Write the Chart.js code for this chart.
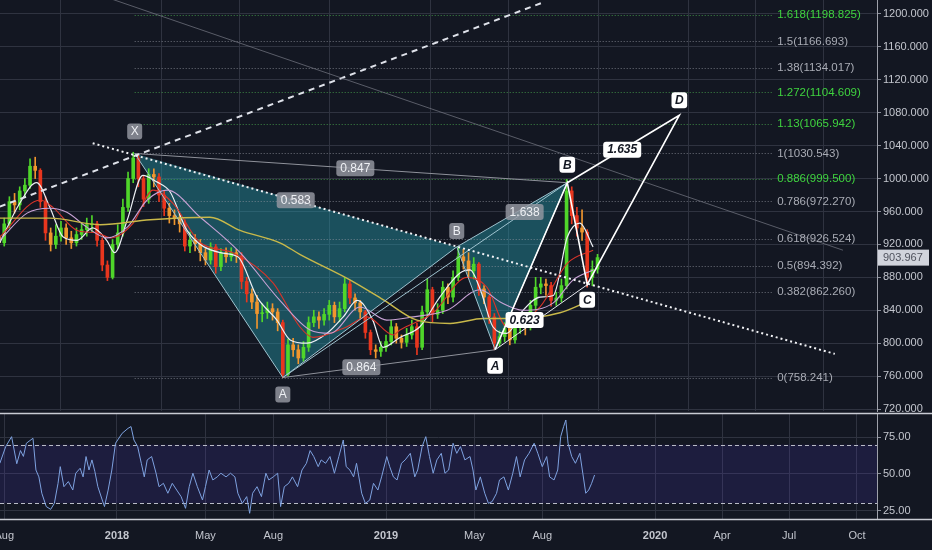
<!DOCTYPE html>
<html><head><meta charset="utf-8">
<script src="https://cdn.jsdelivr.net/npm/chart.js@4.4.1/dist/chart.umd.min.js"></script>
<style>
html,body{margin:0;padding:0;background:#131722;overflow:hidden}
#wrap{position:relative;width:932px;height:550px;background:#131722}
#c1{position:absolute;left:0;top:0}
#c2{position:absolute;left:0;top:412px}
</style></head>
<body><div id="wrap"><canvas id="c1" width="932" height="412"></canvas><canvas id="c2" width="932" height="138"></canvas></div>
<script>
// ---------- DATA ----------
const tickDays = [-153, 0, 120, 212, 365, 485, 577, 730, 821, 912, 1004]; // days since 2018-01-01
const tickLabels = ['Aug','2018','May','Aug','2019','May','Aug','2020','Apr','Jul','Oct'];
const priceTicks = [720,760,800,840,880,920,960,1000,1040,1080,1120,1160,1200];
const rsiTicks = [25,50,75];

const candleStartDay = -160, candleStepDays = 7;
const firstOpen = 930;
const closes = [922,945,972,968,985,992,1015,1010,972,934,
 920,930,940,928,922,932,938,944,945,925,
 895,880,920,934,965,1000,1025,1000,975,1005,
 1002,980,964,955,952,945,918,925,921,910,
 901,917,893,910,905,910,906,875,860,850,
 836,837,842,838,825,762,798,792,782,795,
 825,832,828,835,846,832,842,872,855,849,
 838,813,792,790,795,802,820,806,801,810,
 820,795,838,865,835,840,868,856,880,905,
 900,888,896,866,856,832,800,808,818,804,
 820,822,820,846,868,872,870,852,855,870,
 985,955,940,935,880,890,904];
const highs = [935,952,978,982,990,1000,1024,1026,1012,978,
 940,944,948,945,936,940,946,952,955,948,
 928,900,926,944,975,1008,1032,1030,1004,1012,
 1012,1006,985,970,962,958,950,935,932,926,
 915,922,920,915,916,916,914,910,880,866,
 858,848,850,848,842,828,805,806,798,802,
 832,840,838,842,852,850,850,880,876,860,
 852,840,816,798,802,810,828,824,810,818,
 828,824,845,878,868,848,875,872,888,917,
 914,910,904,898,870,858,836,815,825,822,
 826,830,828,852,880,880,878,874,862,878,
 999,990,965,962,938,900,908];
const lows = [915,918,940,958,962,978,988,1000,965,925,
 912,915,924,920,915,918,926,930,935,918,
 888,876,878,915,930,960,995,990,966,970,
 990,972,955,946,944,935,912,910,912,900,
 895,896,885,888,898,900,898,866,850,842,
 818,826,830,828,815,758,760,784,775,778,
 790,820,818,822,828,825,826,838,848,840,
 830,806,786,782,784,790,798,800,794,796,
 805,786,792,832,826,830,836,848,850,876,
 890,880,878,858,848,824,792,796,802,798,
 800,812,810,816,840,860,858,845,846,850,
 866,945,930,925,868,870,885];
const lastPrice = 903.967;

const maWhiteDays = [-159,-132,-109,-91,-73,-54,-33,-14,-3,14,35,54,72,95,140,164,190,217,235,258,285,307,326,347,361,384,411,438,465,479,493,510,529,551,574,592,611,628,646];
const maWhiteVals = [922,970,995,965,929,925,940,925,910,950,1004,996,984,937,910,905,856,828,804,800,812,832,852,828,795,807,820,856,885,889,865,820,812,840,856,858,929,946,917];
const maLavDays = [-159,-122,-91,-68,-41,-14,14,41,68,113,167,221,262,289,330,366,402,448,493,520,551,592,619,646];
const maLavVals = [925,958,964,959,941,928,941,974,986,953,910,852,816,812,844,828,832,840,865,850,840,849,877,889];
const maRedDays = [-159,-104,-87,-54,-27,-9,22,49,76,113,157,212,248,266,312,339,375,384,429,475,502,529,574,611,646];
const maRedVals = [929,974,965,937,934,928,946,986,970,922,910,873,820,807,820,832,810,816,837,880,868,820,844,897,913];
const maYelDays = [-159,-91,-23,45,126,167,221,248,316,361,407,452,497,543,601,642];
const maYelVals = [952,952,944,950,953,937,922,908,877,853,828,824,830,830,837,852];

const patternNames = ['X','A','B','C','D'];
const patternDays = [24, 225, 461, 611, 513];
const patternPrices = [1030.543, 758.241, 917, 995, 792];
const pattern2Names = ['A','B','C','D'];
const pattern2Days = [513, 611, 638, 763];
const pattern2Prices = [792, 995, 871, 1077];
const ratioTexts = ['0.583','0.847','1.638','0.864'];
const ratio2Texts = ['1.635','0.623'];

const fibRatios = ['1.618','1.5','1.38','1.272','1.13','1','0.886','0.786','0.618','0.5','0.382','0'];
const fibPrices = [1198.825,1166.693,1134.017,1104.609,1065.942,1030.543,999.5,972.27,926.524,894.392,862.26,758.241];
const fibStartDay = 24, fibEndDay = 889;

const trendDottedDays = [-33, 974], trendDottedPrices = [1043, 787];
const trendDashedDays = [-159, 581], trendDashedPrices = [966, 1215];
const trendFaintDays = [-23, 985], trendFaintPrices = [1223, 913];

const rsiDays = [-159,-151,-143,-136,-131,-127,-123,-114,-110,-106,
-102,-96,-90,-85,-80,-77,-72,-66,-60,-56,
-50,-46,-42,-38,-34,-30,-26,-20,-17,-12,
-7,-2,7,15,19,23,28,33,37,41,
47,53,57,63,69,75,81,87,93,98,
103,109,116,120,125,130,136,141,148,154,
160,164,170,176,180,184,190,196,202,206,
212,218,222,227,233,238,245,251,257,262,
267,273,277,283,289,295,301,307,311,316,
321,325,332,337,343,348,354,359,366,370,
375,380,386,391,398,404,408,414,419,424,
429,434,440,445,450,456,461,466,472,479,
483,487,493,499,504,509,515,519,525,531,
537,542,547,553,559,566,571,577,583,587,
593,598,602,606,609,612,617,622,628,632,
636,640,644,648];
const rsiVals = [57.3,68.7,75.5,57,66,62,71,74.4,52.7,48,
36.8,27.7,25.8,29.9,43.6,55,41.3,44.8,39,50.5,
53.9,48,61.9,52.7,59.6,51.6,41.3,32.2,27.7,39,
52.7,71,77.8,81.2,82.4,73.2,68.7,57.3,48,59.6,
61.9,50.5,41.3,43.6,36.8,43.6,39,34.5,26.5,41.3,
50.5,41.3,32.2,41.3,52.7,45.9,48,50.5,48,50.5,
48,36.8,29.9,34.5,23.1,36.8,41.3,34.5,50.5,45.9,
48,50.5,27.7,41.3,43.6,48,41.3,52.7,57.3,66,
61.9,55,59.6,57.3,61.9,50.5,61.9,73.2,55,52.7,
48,57.3,36.8,29.9,32.2,43.6,39,48,61.9,55,
48,45.9,57.3,59.6,64.1,48,52.7,68.7,75.5,61.9,
50.5,59.6,64.1,50.5,52.7,71,64.1,68.7,59.6,61.9,
52.7,39,48,36.8,29.9,31.1,36.8,45.9,48,39,
50.5,61.9,48,59.6,64.1,71,64.1,55,61.9,48,
45.9,52.7,75.5,82.4,86.9,71,61.9,57.3,64.1,50.5,
36.8,39,43.6,49.3];
const rsiUpper = 70, rsiLower = 30;

// ---------- STYLE / BUILD ----------
const X_MIN = -158.75, X_MAX = 1031.2;
const GRID = '#2f3340', TXT = '#c3c6ce';
const FONT = "'Liberation Sans', Arial, sans-serif";
const fibGreen = new Set(['1.618','1.272','1.13','0.886']);

const opens = closes.map((c, i) => i === 0 ? firstOpen : closes[i - 1]);
const candleDays = closes.map((c, i) => candleStartDay + candleStepDays * i);
const candleData = closes.map((c, i) => ({ x: candleDays[i], y: [opens[i], c] }));
const wickData = closes.map((c, i) => ({ x: candleDays[i], y: [lows[i], highs[i]] }));
const candleColors = closes.map((c, i) => {
  const o = opens[i];
  if (c >= o) return '#4fd62a';
  return (o - c) > 14 ? '#e8361e' : '#f0962e';
});
const pts = (days, vals) => days.map((d, i) => ({ x: d, y: vals[i] }));
const P = i => ({ x: patternDays[i], y: patternPrices[i] });
const Q = i => ({ x: pattern2Days[i], y: pattern2Prices[i] });

function lineDs(data, color, width, dash, order) {
  return { type: 'line', data, borderColor: color, borderWidth: width, borderDash: dash || [],
    pointRadius: 0, tension: 0, fill: false, order: order };
}
function maDs(days, vals, color, w) {
  return { type: 'line', data: pts(days, vals), borderColor: color, borderWidth: w,
    pointRadius: 0, tension: 0.4, cubicInterpolationMode: 'monotone', fill: false, order: 5 };
}
function zeroPad(s) { s.paddingLeft = 0; s.paddingRight = 0; s.paddingTop = 0; s.paddingBottom = 0; }

function box(ctx, text, cx, cy, style) {
  ctx.save();
  ctx.font = style === 'white' ? "italic bold 12px " + FONT : "12px " + FONT;
  const w = ctx.measureText(text).width + (text.length > 1 ? 8 : 7);
  const h = 16;
  ctx.beginPath();
  ctx.roundRect(cx - w / 2, cy - h / 2, w, h, 3);
  ctx.fillStyle = style === 'white' ? '#ffffff' : 'rgba(150,153,162,0.82)';
  ctx.fill();
  ctx.fillStyle = style === 'white' ? '#131722' : '#eef0f4';
  ctx.textAlign = 'center'; ctx.textBaseline = 'middle';
  ctx.fillText(text, cx, cy + 0.5);
  ctx.restore();
}

const drawPlugin = {
  id: 'drawings',
  beforeDatasetsDraw(chart) {
    const { ctx, scales: { x, y }, chartArea } = chart;
    const px = p => [x.getPixelForValue(p.x), y.getPixelForValue(p.y)];
    ctx.save();
    ctx.beginPath(); ctx.rect(chartArea.left, chartArea.top, chartArea.width, chartArea.height); ctx.clip();
    ctx.fillStyle = 'rgba(38,160,176,0.42)';
    [[0, 1, 2], [2, 3, 4]].forEach(tri => {
      ctx.beginPath();
      tri.forEach((k, j) => { const [a, b] = px(P(k)); j ? ctx.lineTo(a, b) : ctx.moveTo(a, b); });
      ctx.closePath(); ctx.fill();
    });
    ctx.lineWidth = 1;
    fibPrices.forEach((p, i) => {
      const yy = Math.round(y.getPixelForValue(p)) + 0.5;
      ctx.strokeStyle = fibGreen.has(fibRatios[i]) ? 'rgba(76,175,80,0.75)' : 'rgba(150,153,162,0.7)';
      ctx.setLineDash([1, 2]);
      ctx.beginPath(); ctx.moveTo(x.getPixelForValue(fibStartDay), yy); ctx.lineTo(x.getPixelForValue(fibEndDay), yy); ctx.stroke();
    });
    ctx.restore();
  },
  afterDatasetsDraw(chart) {
    const { ctx, scales: { x, y } } = chart;
    const px = p => [x.getPixelForValue(p.x), y.getPixelForValue(p.y)];
    ctx.save();
    ctx.font = "11.5px " + FONT; ctx.textBaseline = 'middle'; ctx.textAlign = 'left';
    fibPrices.forEach((p, i) => {
      ctx.fillStyle = fibGreen.has(fibRatios[i]) ? '#3fd43f' : '#a9acb5';
      ctx.fillText(fibRatios[i] + '(' + p.toFixed(3) + ')', x.getPixelForValue(fibEndDay) + 5, y.getPixelForValue(p));
    });
    ctx.restore();
    const off1 = [-22, 17, -16];
    [0, 1, 2].forEach(i => { const [a, b] = px(P(i)); box(ctx, patternNames[i], a, b + off1[i], 'gray'); });
    const r1 = [[0, 2, 0.5], [0, 3, 0.51], [1, 3, 0.85], [1, 4, 0.37]];
    r1.forEach((r, i) => {
      const [a1, b1] = px(P(r[0])), [a2, b2] = px(P(r[1]));
      box(ctx, ratioTexts[i], a1 + (a2 - a1) * r[2], b1 + (b2 - b1) * r[2], 'gray');
    });
    const off2 = [16, -18, 15, -15];
    [0, 1, 2, 3].forEach(i => { const [a, b] = px(Q(i)); box(ctx, pattern2Names[i], a, b + off2[i], 'white'); });
    const r2 = [[1, 3, 0.49, 0], [0, 2, 0.32, -9]];
    r2.forEach((r, i) => {
      const [a1, b1] = px(Q(r[0])), [a2, b2] = px(Q(r[1]));
      box(ctx, ratio2Texts[i], a1 + (a2 - a1) * r[2], b1 + (b2 - b1) * r[2] + r[3], 'white');
    });
  },
  afterDraw(chart) {
    const { ctx, scales: { y }, chartArea } = chart;
    const yy = y.getPixelForValue(lastPrice);
    ctx.save();
    ctx.fillStyle = '#d1d4dc';
    ctx.fillRect(chartArea.right + 1, yy - 8, 51, 16);
    ctx.fillStyle = '#50535e';
    ctx.font = "11px " + FONT; ctx.textBaseline = 'middle'; ctx.textAlign = 'left';
    ctx.fillText(lastPrice.toFixed(3), chartArea.right + 6, yy + 0.5);
    ctx.restore();
  }
};

const xScaleBase = {
  type: 'linear', min: X_MIN, max: X_MAX, offset: false,
  afterBuildTicks: s => { s.ticks = tickDays.map(v => ({ value: v })); },
  grid: { color: GRID, drawTicks: false },
};

new Chart(document.getElementById('c1'), {
  type: 'bar',
  data: {
    datasets: [
      { type: 'bar', data: wickData, backgroundColor: candleColors, barThickness: 1, grouped: false, order: 11 },
      { type: 'bar', data: candleData, backgroundColor: candleColors, barThickness: 3, grouped: false, order: 10 },
      maDs(maYelDays, maYelVals, '#c9b94a', 1.4),
      maDs(maLavDays, maLavVals, '#c9a3d6', 1.1),
      maDs(maRedDays, maRedVals, '#d8342a', 1.1),
      maDs(maWhiteDays, maWhiteVals, '#eceff4', 1.2),
      lineDs(pts(trendFaintDays, trendFaintPrices), 'rgba(120,123,134,0.7)', 1, [], 3),
      lineDs(pts(trendDashedDays, trendDashedPrices), '#dfe2ea', 2, [6, 5], 3),
      lineDs([P(0), P(3)], '#8f929b', 1, [], 3),
      lineDs([P(1), P(4)], '#8f929b', 1, [], 3),
      lineDs([P(1), P(3)], '#9fc3cf', 1, [], 3),
      lineDs([P(0), P(1), P(2), P(3), P(4), P(2)], '#9fc3cf', 1, [], 3),
      lineDs(pts(trendDottedDays, trendDottedPrices), '#f2f3f6', 2, [2, 3], 2),
      lineDs([Q(0), Q(2)], '#e6e8ee', 1, [], 1),
      lineDs([Q(0), Q(1), Q(2), Q(3), Q(1)], '#ffffff', 1.6, [], 1),
    ]
  },
  options: {
    responsive: false, animation: false, events: [],
    layout: { padding: 0 },
    plugins: { legend: { display: false }, tooltip: { enabled: false } },
    scales: {
      x: Object.assign({}, xScaleBase, { ticks: { display: false }, border: { display: false },
        afterFit: s => { s.height = 1; zeroPad(s); } }),
      y: {
        type: 'linear', position: 'right', min: 717.6, max: 1217,
        afterBuildTicks: s => { s.ticks = priceTicks.map(v => ({ value: v })); },
        ticks: { color: TXT, font: { size: 11, family: FONT }, padding: 2, callback: v => Number(v).toFixed(3) },
        grid: { color: GRID, tickLength: 4, tickColor: '#8a8e99' },
        border: { color: '#9ea1aa' },
        afterFit: s => { s.width = 55; zeroPad(s); }
      }
    }
  },
  plugins: [drawPlugin]
});

const rsiPlugin = {
  id: 'rsiband',
  beforeDatasetsDraw(chart) {
    const { ctx, scales: { y }, chartArea } = chart;
    const y1 = y.getPixelForValue(rsiUpper), y2 = y.getPixelForValue(rsiLower);
    ctx.save();
    ctx.fillStyle = 'rgba(82,62,200,0.17)';
    ctx.fillRect(chartArea.left, y1, chartArea.width, y2 - y1);
    ctx.strokeStyle = '#b9bcc6'; ctx.lineWidth = 1; ctx.setLineDash([4, 3]);
    [y1, y2].forEach(v => { ctx.beginPath(); ctx.moveTo(chartArea.left, Math.round(v) + 0.5); ctx.lineTo(chartArea.right, Math.round(v) + 0.5); ctx.stroke(); });
    ctx.restore();
  },
  afterDraw(chart) {
    const { ctx, chartArea } = chart;
    ctx.save();
    ctx.strokeStyle = '#c9ccd4'; ctx.lineWidth = 1.5;
    ctx.beginPath(); ctx.moveTo(0, 1.5); ctx.lineTo(932, 1.5); ctx.stroke();
    ctx.beginPath(); ctx.moveTo(0, chartArea.bottom + 0.5); ctx.lineTo(932, chartArea.bottom + 0.5); ctx.stroke();
    ctx.restore();
  }
};

new Chart(document.getElementById('c2'), {
  type: 'line',
  data: { datasets: [ { data: pts(rsiDays, rsiVals), borderColor: '#7ea2e0', borderWidth: 1, pointRadius: 0, tension: 0, fill: false } ] },
  options: {
    responsive: false, animation: false, events: [],
    layout: { padding: { top: 2 } },
    plugins: { legend: { display: false }, tooltip: { enabled: false } },
    scales: {
      x: Object.assign({}, xScaleBase, {
        ticks: { color: TXT, padding: 10, maxRotation: 0, autoSkip: false,
          font: ctx => ({ size: 11, family: FONT, weight: /^\d{4}$/.test(tickLabels[ctx.index] || '') ? 'bold' : 'normal' }),
          callback: (v, i) => tickLabels[i] },
        border: { display: false },
        afterFit: s => { s.height = 31; zeroPad(s); } }),
      y: {
        type: 'linear', position: 'right', min: 19.2, max: 91,
        afterBuildTicks: s => { s.ticks = rsiTicks.map(v => ({ value: v })); },
        ticks: { color: TXT, font: { size: 11, family: FONT }, padding: 2, callback: v => Number(v).toFixed(2) },
        grid: { color: GRID, tickLength: 4, tickColor: '#8a8e99' },
        border: { color: '#9ea1aa' },
        afterFit: s => { s.width = 55; zeroPad(s); }
      }
    }
  },
  plugins: [rsiPlugin]
});
</script>
</body></html>
